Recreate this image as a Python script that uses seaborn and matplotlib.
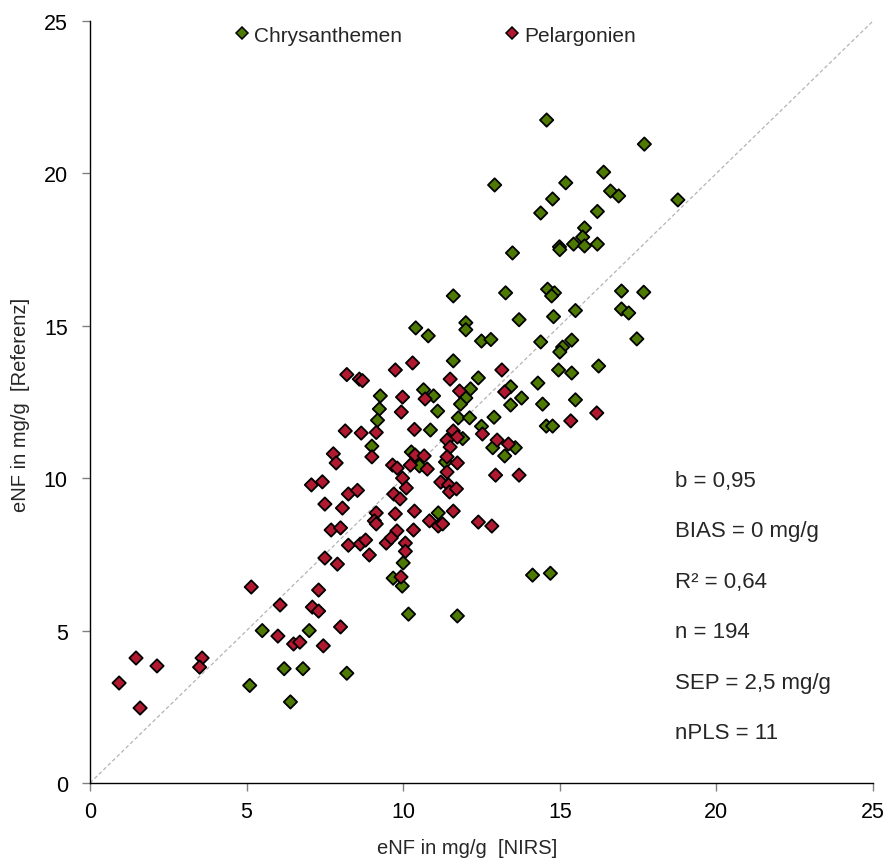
import matplotlib
matplotlib.use("Agg")
import matplotlib.pyplot as plt
import seaborn as sns
import pandas as pd

# eNF (mg/g): NIRS prediction vs. reference analysis
chrys_nirs = [14.58, 17.70, 12.92, 16.40, 15.19, 16.62, 16.88, 18.77, 14.77, 14.39,
              16.20, 15.79, 15.73, 14.99, 15.00, 15.44, 15.79, 16.20, 13.49, 16.97,
              17.68, 14.61, 14.83, 14.74, 11.60, 13.27, 16.97, 17.20, 15.50, 14.80,
              13.70, 12.00, 12.00, 10.40, 10.80, 12.50, 12.80, 14.39, 15.38, 15.09,
              15.00, 17.46, 11.60, 12.40, 14.96, 15.38, 16.24, 14.30, 13.43, 13.78,
              13.43, 14.45, 15.50, 10.65, 10.97, 12.15, 12.00, 11.83, 9.27, 9.24,
              9.18, 11.10, 11.76, 12.12, 12.90, 10.87, 11.90, 12.50, 12.86, 13.58,
              13.24, 9.00, 14.57, 14.77, 10.26, 11.35, 10.52, 11.12, 10.00, 9.97,
              9.68, 10.17, 11.73, 14.13, 14.70, 5.50, 7.00, 6.20, 6.80, 5.10,
              6.40, 8.20]
chrys_ref = [21.75, 20.96, 19.62, 20.04, 19.69, 19.42, 19.26, 19.13, 19.16, 18.70,
             18.75, 18.21, 17.91, 17.59, 17.50, 17.68, 17.62, 17.68, 17.39, 16.14,
             16.10, 16.20, 16.08, 15.98, 15.98, 16.08, 15.55, 15.42, 15.50, 15.30,
             15.20, 15.10, 14.87, 14.93, 14.67, 14.50, 14.55, 14.47, 14.53, 14.30,
             14.14, 14.57, 13.85, 13.29, 13.55, 13.45, 13.68, 13.12, 13.00, 12.63,
             12.40, 12.43, 12.57, 12.90, 12.70, 12.93, 12.63, 12.43, 12.70, 12.27,
             11.90, 12.20, 11.98, 11.98, 12.00, 11.58, 11.30, 11.70, 11.00, 11.00,
             10.73, 11.05, 11.71, 11.71, 10.86, 10.53, 10.40, 8.86, 7.22, 6.46,
             6.72, 5.54, 5.48, 6.82, 6.88, 5.00, 5.00, 3.75, 3.75, 3.20,
             2.66, 3.60]

pelarg_nirs = [0.93, 1.47, 1.60, 2.14, 3.58, 3.50, 5.15, 6.07, 6.00, 6.50,
               6.70, 7.45, 7.10, 7.30, 7.30, 7.50, 8.00, 7.90, 8.20, 8.60,
               8.70, 9.75, 10.30, 9.98, 9.94, 8.15, 8.66, 9.14, 9.00, 7.77,
               7.86, 9.66, 9.81, 7.07, 7.42, 8.25, 8.54, 7.50, 8.06, 9.98,
               10.10, 9.70, 9.90, 9.14, 9.75, 9.08, 9.14, 7.70, 8.00, 9.80,
               8.25, 8.63, 8.80, 9.46, 9.62, 10.07, 8.92, 10.07, 13.15, 11.50,
               10.70, 11.80, 13.24, 10.36, 11.60, 11.73, 12.53, 13.00, 13.36, 11.40,
               11.50, 10.38, 10.67, 11.40, 11.73, 10.23, 10.77, 11.40, 12.95, 13.70,
               11.20, 11.45, 11.48, 11.70, 10.36, 11.60, 10.84, 11.12, 11.26, 10.33,
               12.40, 12.83, 9.93, 16.18, 15.35]
pelarg_ref = [3.28, 4.10, 2.46, 3.84, 4.10, 3.80, 6.43, 5.84, 4.82, 4.56,
              4.62, 4.50, 5.77, 5.64, 6.33, 7.38, 5.12, 7.18, 13.40, 13.25,
              13.20, 13.55, 13.78, 12.66, 12.17, 11.55, 11.48, 11.50, 10.70, 10.80,
              10.50, 10.43, 10.33, 9.78, 9.88, 9.48, 9.60, 9.15, 9.02, 10.00,
              9.68, 9.48, 9.32, 8.86, 8.83, 8.60, 8.50, 8.30, 8.37, 8.27,
              7.80, 7.84, 7.97, 7.87, 8.04, 7.87, 7.48, 7.60, 13.55, 13.25,
              12.60, 12.86, 12.83, 11.60, 11.55, 11.35, 11.45, 11.25, 11.12, 11.25,
              11.02, 10.76, 10.73, 10.70, 10.50, 10.43, 10.30, 10.20, 10.10, 10.10,
              9.87, 9.78, 9.55, 9.65, 8.92, 8.92, 8.60, 8.43, 8.50, 8.30,
              8.56, 8.43, 6.76, 12.14, 11.88]

groups = ["Chrysanthemen", "Pelargonien"]
colors = ["#4e7a03", "#b0192f"]
stats_lines = ["b = 0,95", "BIAS = 0 mg/g", "R² = 0,64", "n = 194",
               "SEP = 2,5 mg/g", "nPLS = 11"]

df = pd.DataFrame({
    "nirs": chrys_nirs + pelarg_nirs,
    "ref": chrys_ref + pelarg_ref,
    "Kultur": [groups[0]] * len(chrys_nirs) + [groups[1]] * len(pelarg_nirs),
})

sns.set_style("ticks")
plt.rcParams["font.family"] = ["Liberation Sans", "DejaVu Sans"]

fig = plt.figure(figsize=(8.9, 8.62), dpi=100)
ax = fig.add_axes([0.1011, 0.0905, 0.8798, 0.884])

# 1:1 line
ax.plot([0, 25], [0, 25], color="#b4b4b4", lw=0.9, ls=(0, (3, 2)), zorder=1)

sns.scatterplot(data=df, x="nirs", y="ref", hue="Kultur", hue_order=groups,
                palette=colors, marker="D", s=46, edgecolor="black",
                linewidth=1.3, ax=ax, zorder=3, legend=False)

ax.set_xlim(0, 25)
ax.set_ylim(0, 25)
ax.set_xticks([0, 5, 10, 15, 20, 25])
ax.set_yticks([0, 5, 10, 15, 20, 25])
ax.tick_params(axis="both", direction="out", length=6, width=1,
               color="#808080", labelsize=15.5, labelcolor="black")
ax.tick_params(axis="y", pad=10)
ax.tick_params(axis="x", pad=7)
sns.despine(ax=ax)
for side in ("left", "bottom"):
    ax.spines[side].set_color("black")
    ax.spines[side].set_linewidth(1.0)

ax.set_xlabel("eNF in mg/g  [NIRS]", fontsize=14.5)
ax.set_ylabel("eNF in mg/g  [Referenz]", fontsize=14.5)
ax.xaxis.set_label_coords(0.482, -0.072)
ax.yaxis.set_label_coords(-0.076, 0.497)

# legend with diamond handles
handles = [plt.Line2D([], [], ls="", marker="D", markersize=6.5,
                      markerfacecolor=c, markeredgecolor="black",
                      markeredgewidth=1.1) for c in colors]
fig.legend(handles, groups, loc="center", bbox_to_anchor=(0.489, 0.958),
           ncol=2, frameon=False, fontsize=15, handlelength=0.7,
           handletextpad=0.25, columnspacing=4.9)

# calibration statistics
y0 = 0.3976
step = 50.5 / 762
for i, line in enumerate(stats_lines):
    ax.text(0.7468, y0 - i * step, line, transform=ax.transAxes,
            ha="left", va="center", fontsize=16)

fig.savefig("out.png", dpi=100)
